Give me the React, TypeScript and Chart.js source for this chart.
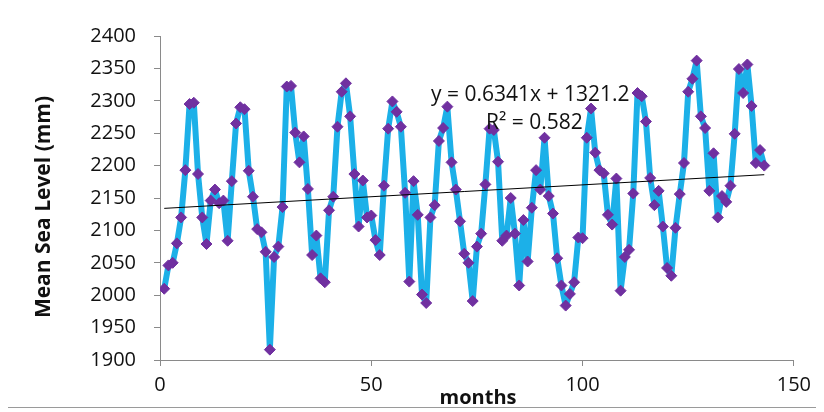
import React, { useEffect, useRef } from "react";
import { Chart, registerables } from "chart.js";

Chart.register(...registerables);

// Monthly mean sea level (mm)
const seaLevel: number[] = [
  2010, 2046, 2050, 2080, 2120, 2193, 2295, 2297, 2187, 2120,
  2079, 2146, 2163, 2142, 2146, 2084, 2176, 2265, 2290, 2287,
  2192, 2152, 2102, 2097, 2067, 1916, 2059, 2075, 2136, 2322,
  2323, 2251, 2205, 2245, 2164, 2062, 2092, 2026, 2020, 2131,
  2152, 2260, 2314, 2327, 2276, 2187, 2106, 2177, 2120, 2123,
  2085, 2062, 2169, 2257, 2299, 2283, 2260, 2158, 2021, 2176,
  2124, 2001, 1988, 2120, 2139, 2238, 2258, 2291, 2205, 2163,
  2114, 2064, 2050, 1991, 2075, 2095, 2171, 2257, 2255, 2206,
  2084, 2092, 2150, 2095, 2015, 2116, 2052, 2135, 2193, 2163,
  2243, 2153, 2126, 2057, 2015, 1984, 2002, 2020, 2089, 2088,
  2243, 2288, 2220, 2193, 2188, 2124, 2109, 2180, 2007, 2059,
  2070, 2157, 2312, 2307, 2268, 2181, 2139, 2161, 2106, 2042,
  2030, 2104, 2156, 2204, 2314, 2334, 2362, 2276, 2258, 2161,
  2219, 2120, 2153, 2144, 2169, 2249, 2349, 2312, 2356, 2292,
  2204, 2224, 2200,
];
const months: number[] = seaLevel.map((_, i) => i + 1);

// Linear trendline endpoints as drawn in the reference
const trendMonths: number[] = [1, 143];
const trendLevels: number[] = [2134, 2186];

const xTicks: number[] = [0, 50, 100, 150];
const yTicks: number[] = [1900, 1950, 2000, 2050, 2100, 2150, 2200, 2250, 2300, 2350, 2400];

const xTitle = "months";
const yTitle = "Mean Sea Level (mm)";
const eqLabel = "y = 0.6341x + 1321.2";
const r2Label = "R\u00B2 = 0.582";

const FONT = "'Open Sans', Lato, sans-serif";

const textPlugin = {
  id: "overlayTexts",
  afterDatasetsDraw(chart: any) {
    const ctx = chart.ctx as CanvasRenderingContext2D;
    ctx.save();
    ctx.fillStyle = "#111";
    ctx.font = `21px ${FONT}`;
    ctx.textAlign = "left";
    ctx.textBaseline = "middle";
    ctx.fillText(eqLabel, 423, 89);
    ctx.fillText(r2Label, 478, 117);
    ctx.font = `bold 20px ${FONT}`;
    ctx.textAlign = "center";
    ctx.fillText(xTitle, 470, 392);
    ctx.font = `bold 21px ${FONT}`;
    ctx.translate(36, 201);
    ctx.rotate(-Math.PI / 2);
    ctx.fillText(yTitle, 0, 0);
    ctx.restore();
  },
};

export default function App() {
  const ref = useRef<HTMLCanvasElement | null>(null);

  useEffect(() => {
    if (!ref.current) return;
    const chart = new Chart(ref.current, {
      type: "scatter",
      data: {
        datasets: [
          {
            label: "Trend",
            data: trendMonths.map((m, i) => ({ x: m, y: trendLevels[i] })),
            showLine: true,
            borderColor: "#000",
            borderWidth: 1,
            pointRadius: 0,
            order: 0,
          },
          {
            label: "Mean Sea Level",
            data: months.map((m, i) => ({ x: m, y: seaLevel[i] })),
            showLine: true,
            borderColor: "#1cb0e8",
            borderWidth: 6,
            borderJoinStyle: "round",
            borderCapStyle: "round",
            pointStyle: "rectRot",
            pointRadius: 5.5,
            pointBackgroundColor: "#7030a0",
            pointBorderColor: "#7030a0",
            pointBorderWidth: 1,
            order: 1,
          },
        ],
      },
      options: {
        animation: false,
        responsive: true,
        maintainAspectRatio: false,
        layout: { padding: { top: 13, right: 19, left: 0, bottom: 0 } },
        plugins: {
          legend: { display: false },
          tooltip: { enabled: false },
        },
        scales: {
          x: {
            type: "linear",
            min: 0,
            max: 150,
            afterBuildTicks: (s: any) => {
              s.ticks = xTicks.map((v) => ({ value: v }));
            },
            afterFit: (s: any) => {
              s.height = 47;
            },
            grid: {
              drawOnChartArea: false,
              drawTicks: true,
              tickLength: 6,
              color: "#8a8a8a",
            },
            border: { display: true, color: "#8a8a8a", width: 1 },
            ticks: {
              padding: 7,
              color: "#111",
              font: { family: FONT, size: 20 },
              callback: (v: any) => String(v),
            },
          },
          y: {
            type: "linear",
            min: 1900,
            max: 2400,
            afterBuildTicks: (s: any) => {
              s.ticks = yTicks.map((v) => ({ value: v }));
            },
            afterFit: (s: any) => {
              s.width = 152;
            },
            grid: {
              drawOnChartArea: false,
              drawTicks: true,
              tickLength: 6,
              color: "#8a8a8a",
            },
            border: { display: true, color: "#8a8a8a", width: 1 },
            ticks: {
              padding: 18,
              color: "#111",
              font: { family: FONT, size: 20 },
              callback: (v: any) => String(v),
            },
          },
        },
      },
      plugins: [textPlugin],
    });
    return () => chart.destroy();
  }, []);

  return (
    <div
      style={{
        position: "relative",
        width: 810,
        height: 401,
        border: "1px solid #9a9a9a",
        marginTop: -3,
        marginLeft: -1,
        background: "#fff",
      }}
    >
      <canvas ref={ref} style={{ width: "100%", height: "100%" }} />
    </div>
  );
}
